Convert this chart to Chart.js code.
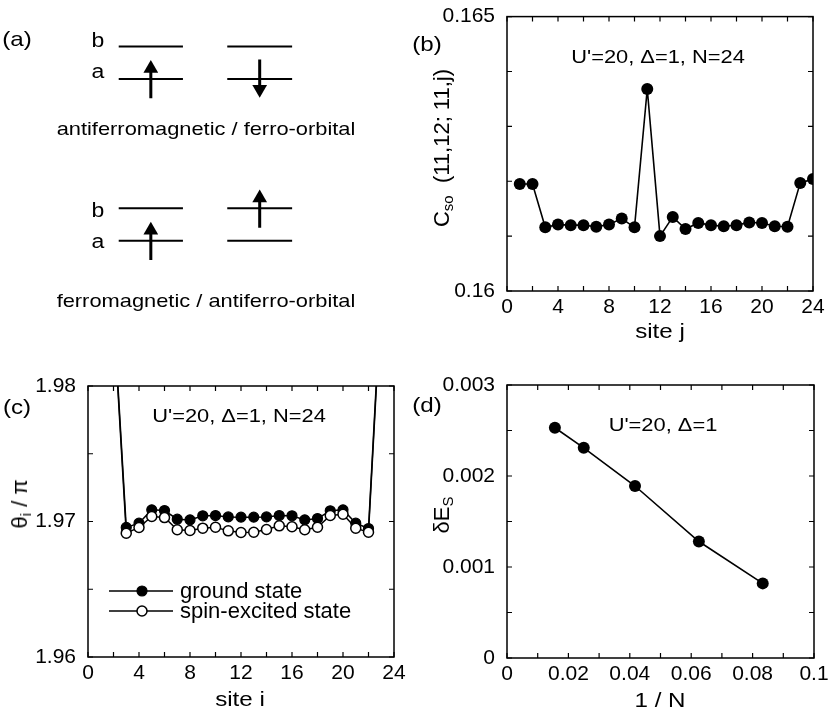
<!DOCTYPE html>
<html>
<head>
<meta charset="utf-8">
<script src="https://cdn.jsdelivr.net/npm/chart.js@4.4.1/dist/chart.umd.min.js"></script>
<style>
  html, body { margin: 0; padding: 0; background: #fff; }
  body { position: relative; width: 830px; height: 719px; overflow: hidden; font-family: "Liberation Sans", Arial, sans-serif; }
  .panel { position: absolute; }
  .lbl { position: absolute; white-space: nowrap; color: #000; font-size: 19px; line-height: 1; transform: translate(-50%, -50%) scaleX(1.15); }
  .ytitle { position: absolute; white-space: nowrap; color: #000; font-size: 22px; line-height: 1; transform: translate(-50%, -50%) rotate(-90deg); }
  sub { font-size: 68%; vertical-align: -0.3em; line-height: 0; }
</style>
</head>
<body>
<div class="panel" style="left:0;top:0;width:410px;height:350px"><canvas id="chartA"></canvas></div>
<div class="panel" style="left:420px;top:0;width:410px;height:340px"><canvas id="chartB"></canvas></div>
<div class="panel" style="left:0;top:360px;width:410px;height:359px"><canvas id="chartC"></canvas></div>
<div class="panel" style="left:420px;top:360px;width:410px;height:359px"><canvas id="chartD"></canvas></div>

<!-- (a) -->
<div class="lbl" style="left:17px;top:38px;font-size:21px">(a)</div>
<div class="lbl" style="left:98px;top:40px;font-size:20px">b</div>
<div class="lbl" style="left:98px;top:71px;font-size:20px">a</div>
<div class="lbl" style="left:206px;top:128px">antiferromagnetic / ferro-orbital</div>
<div class="lbl" style="left:98px;top:210px;font-size:20px">b</div>
<div class="lbl" style="left:98px;top:241px;font-size:20px">a</div>
<div class="lbl" style="left:206px;top:300px">ferromagnetic / antiferro-orbital</div>

<!-- (b) -->
<div class="lbl" style="left:427px;top:43px;font-size:21px">(b)</div>
<div class="lbl" style="left:658px;top:56px">U'=20, Δ=1, N=24</div>
<div class="lbl" style="left:660px;top:330px;font-size:21px">site j</div>
<div class="ytitle" style="left:442px;top:148px">C<sub>so</sub>&nbsp; (11,12; 11,j)</div>

<!-- (c) -->
<div class="lbl" style="left:17px;top:406px;font-size:21px">(c)</div>
<div class="lbl" style="left:239px;top:415px">U'=20, Δ=1, N=24</div>
<div class="lbl" style="left:240px;top:698px;font-size:21px">site i</div>
<div class="ytitle" style="left:20px;top:504px">θ<sub>i</sub> / π</div>

<!-- (d) -->
<div class="lbl" style="left:427px;top:404px;font-size:21px">(d)</div>
<div class="lbl" style="left:663px;top:424px">U'=20, Δ=1</div>
<div class="lbl" style="left:660px;top:699px;font-size:21px">1 / N</div>
<div class="ytitle" style="left:442px;top:515px">δE<sub>S</sub></div>

<script>
// ---- data ----
// (a) occupied orbital on each of the two sites (0 = a, 1 = b) and spin (+1 up, -1 down)
const schemeOrbital = [[0, 0], [0, 1]];
const schemeSpin = [[1, -1], [1, 1]];

// (b) C_so(11,12; 11,j)
const siteJ = [1, 2, 3, 4, 5, 6, 7, 8, 9, 10, 11, 12, 13, 14, 15, 16, 17, 18, 19, 20, 21, 22, 23, 24];
const csoValues = [0.16195, 0.16195, 0.16116, 0.16121, 0.16120, 0.16120, 0.16117, 0.16121, 0.16132, 0.16116,
                   0.16368, 0.16100, 0.16135, 0.16113, 0.16124, 0.16120, 0.16118, 0.16120, 0.16125, 0.16124,
                   0.16118, 0.16117, 0.16197, 0.16204];

// (c) theta_i / pi
const siteI = [1, 2, 3, 4, 5, 6, 7, 8, 9, 10, 11, 12, 13, 14, 15, 16, 17, 18, 19, 20, 21, 22, 23, 24];
const thetaGround = [1.995, 1.9856, 1.96956, 1.96988, 1.97086, 1.97081, 1.97017, 1.97012, 1.97042, 1.97044,
                     1.97034, 1.97032, 1.97032, 1.97034, 1.97044, 1.97042, 1.97012, 1.97022, 1.97079, 1.97086,
                     1.96988, 1.96948, 1.9870, 1.996];
const thetaExcited = [1.995, 1.9853, 1.96914, 1.96956, 1.97037, 1.97029, 1.96939, 1.96934, 1.96951, 1.96958,
                      1.96931, 1.96919, 1.96921, 1.96941, 1.96968, 1.96961, 1.96939, 1.96958, 1.97044, 1.97054,
                      1.96951, 1.96921, 1.9866, 1.996];

// (d) spin gap vs 1/N
const invN = [0.0156, 0.025, 0.0417, 0.0625, 0.0833];
const deltaEs = [0.00253, 0.00231, 0.00189, 0.00128, 0.00082];

Chart.defaults.font.family = '"Liberation Sans", Arial, sans-serif';
Chart.defaults.color = '#000';

const pts = (xs, ys) => xs.map((x, i) => ({ x: x, y: ys[i] }));

// box around the plot with inward ticks on all four sides
const frameTicks = {
  id: 'frameTicks',
  afterDraw(chart) {
    const { ctx, chartArea: a, scales } = chart;
    const len = 5;
    ctx.save();
    ctx.strokeStyle = '#000';
    ctx.lineWidth = 1.5;
    ctx.strokeRect(a.left, a.top, a.right - a.left, a.bottom - a.top);
    ctx.lineWidth = 1.2;
    ctx.beginPath();
    scales.x.ticks.forEach(t => {
      const px = scales.x.getPixelForValue(t.value);
      ctx.moveTo(px, a.bottom); ctx.lineTo(px, a.bottom - len);
      ctx.moveTo(px, a.top); ctx.lineTo(px, a.top + len);
    });
    scales.y.ticks.forEach(t => {
      const py = scales.y.getPixelForValue(t.value);
      ctx.moveTo(a.left, py); ctx.lineTo(a.left + len, py);
      ctx.moveTo(a.right, py); ctx.lineTo(a.right - len, py);
    });
    ctx.stroke();
    ctx.restore();
  }
};

// legend inside panel (c): line through marker, then label
const innerLegend = {
  id: 'innerLegend',
  afterDraw(chart) {
    const { ctx, chartArea: a } = chart;
    ctx.save();
    chart.data.datasets.forEach((ds, k) => {
      const y = a.top + 205 + k * 20;
      ctx.strokeStyle = '#000';
      ctx.lineWidth = 1.5;
      ctx.beginPath();
      ctx.moveTo(a.left + 21, y); ctx.lineTo(a.left + 85, y);
      ctx.stroke();
      ctx.beginPath();
      ctx.arc(a.left + 54, y, ds.pointRadius, 0, Math.PI * 2);
      ctx.fillStyle = ds.pointBackgroundColor;
      ctx.fill();
      ctx.lineWidth = ds.pointBorderWidth;
      ctx.stroke();
      ctx.fillStyle = '#000';
      ctx.font = '22px "Liberation Sans", Arial, sans-serif';
      ctx.textBaseline = 'middle';
      ctx.fillText(ds.label, a.left + 92, y + 1);
    });
    ctx.restore();
  }
};

function axis(min, max, step, every, digits, size) {
  return {
    type: 'linear', min: min, max: max,
    grid: { display: false }, border: { display: false },
    ticks: {
      stepSize: step, autoSkip: false, maxRotation: 0, padding: size > 50 ? 4 : -4,
      font: { size: 21 },
      callback: (v, i, ticks) => {
        if (every === 'ends') return (i === 0 || i === ticks.length - 1) ? String(+v.toFixed(digits)) : '';
        const r = v / every;
        return Math.abs(r - Math.round(r)) < 1e-6 ? String(+v.toFixed(digits)) : '';
      }
    },
    afterFit: s => { if (s.isHorizontal()) s.height = size; else s.width = size; }
  };
}

const baseOpts = (pad) => ({
  responsive: true, maintainAspectRatio: false, animation: false, events: [],
  layout: { padding: pad },
  plugins: { legend: { display: false }, tooltip: { enabled: false } }
});

// ---- (a) level scheme ----
const colStart = [0, 1.69], colEnd = [1, 2.7], rowGap = 5;
const levelY = (row, orb) => orb - rowGap * row;
const schemeSets = [];
schemeOrbital.forEach((orbs, r) => {
  [0, 1].forEach(orb => colStart.forEach((x0, s) => schemeSets.push({
    data: [{ x: x0, y: levelY(r, orb) }, { x: colEnd[s], y: levelY(r, orb) }],
    showLine: true, borderColor: '#000', borderWidth: 2, pointRadius: 0
  })));
  orbs.forEach((orb, s) => {
    const xm = (colStart[s] + colEnd[s]) / 2, y0 = levelY(r, orb), d = schemeSpin[r][s];
    schemeSets.push({
      data: [{ x: xm, y: y0 - 0.6 * d }, { x: xm, y: y0 + 0.32 * d }],
      showLine: true, borderColor: '#000', borderWidth: 3,
      pointRadius: [0, 8.5], pointStyle: 'triangle', pointRotation: d > 0 ? 0 : 180,
      pointBackgroundColor: '#000', pointBorderWidth: 0
    });
  });
});
new Chart(document.getElementById('chartA'), {
  type: 'scatter',
  data: { datasets: schemeSets },
  options: Object.assign(baseOpts(0), {
    scales: {
      x: { type: 'linear', display: false, min: -1.716, max: 4.403 },
      y: { type: 'linear', display: false, min: -8.118, max: 2.176 }
    }
  })
});

// ---- (b) ----
new Chart(document.getElementById('chartB'), {
  type: 'scatter',
  data: { datasets: [{
    label: 'C_so', data: pts(siteJ, csoValues), showLine: true,
    borderColor: '#000', borderWidth: 1.6, pointRadius: 6,
    pointBackgroundColor: '#000', pointBorderWidth: 0
  }] },
  options: Object.assign(baseOpts({ left: 0, top: 15, right: 17, bottom: 19 }), {
    scales: { x: axis(0, 24, 2, 4, 0, 30), y: axis(0.16, 0.165, 0.001, 'ends', 3, 87) }
  }),
  plugins: [frameTicks]
});

// ---- (c) ----
new Chart(document.getElementById('chartC'), {
  type: 'scatter',
  data: { datasets: [
    { label: 'ground state', data: pts(siteI, thetaGround), showLine: true, order: 1,
      borderColor: '#000', borderWidth: 1.5, pointRadius: 5,
      pointBackgroundColor: '#000', pointBorderColor: '#000', pointBorderWidth: 1.2 },
    { label: 'spin-excited state', data: pts(siteI, thetaExcited), showLine: true, order: 0,
      borderColor: '#000', borderWidth: 1.5, pointRadius: 5,
      pointBackgroundColor: '#fff', pointBorderColor: '#000', pointBorderWidth: 1.5 }
  ] },
  options: Object.assign(baseOpts({ left: 0, top: 26, right: 16, bottom: 32 }), {
    scales: { x: axis(0, 24, 2, 4, 0, 30), y: axis(1.96, 1.98, 0.005, 0.01, 2, 88) }
  }),
  plugins: [frameTicks, innerLegend]
});

// ---- (d) ----
new Chart(document.getElementById('chartD'), {
  type: 'scatter',
  data: { datasets: [{
    label: 'dE_S', data: pts(invN, deltaEs), showLine: true,
    borderColor: '#000', borderWidth: 1.6, pointRadius: 6,
    pointBackgroundColor: '#000', pointBorderWidth: 0
  }] },
  options: Object.assign(baseOpts({ left: 0, top: 25, right: 16, bottom: 31 }), {
    scales: { x: axis(0, 0.1, 0.01, 0.02, 2, 30), y: axis(0, 0.003, 0.0005, 0.001, 3, 87) }
  }),
  plugins: [frameTicks]
});
</script>
</body>
</html>
